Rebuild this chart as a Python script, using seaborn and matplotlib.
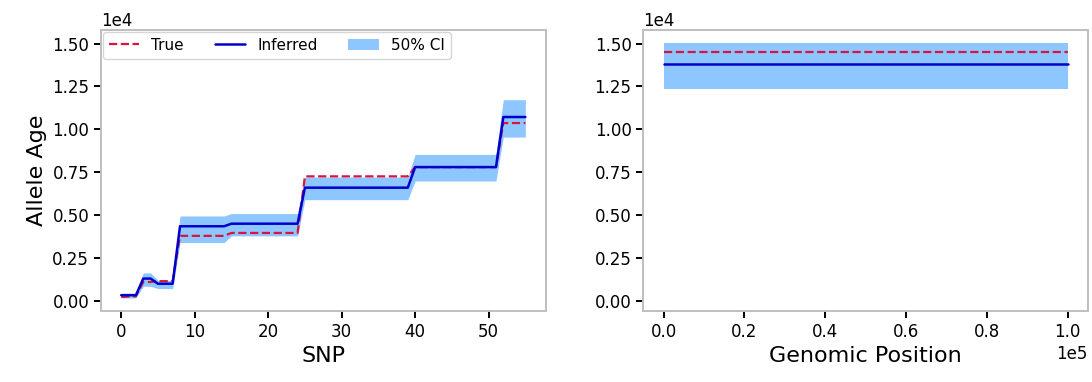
import numpy as np
import seaborn as sns
import matplotlib
matplotlib.use("Agg")
import matplotlib.pyplot as plt

# per-SNP allele ages
snp = list(range(56))
true_age = [230, 250, 270, 1100, 1100, 1150, 1150, 1150,
            3790, 3790, 3790, 3790, 3790, 3790, 3790,
            3960, 3960, 3960, 3960, 3960, 3960, 3960, 3960, 3960, 3960,
            7260, 7260, 7260, 7260, 7260, 7260, 7260, 7260, 7260, 7260, 7260, 7260, 7260, 7260, 7260,
            7800, 7800, 7800, 7800, 7800, 7800, 7800, 7800, 7800, 7800, 7800, 7800,
            10370, 10370, 10370, 10370]
inferred_age = [330, 330, 330, 1300, 1300, 1000, 1000, 1000,
                4350, 4350, 4350, 4350, 4350, 4350, 4350,
                4500, 4500, 4500, 4500, 4500, 4500, 4500, 4500, 4500, 4500,
                6600, 6600, 6600, 6600, 6600, 6600, 6600, 6600, 6600, 6600, 6600, 6600, 6600, 6600, 6600,
                7800, 7800, 7800, 7800, 7800, 7800, 7800, 7800, 7800, 7800, 7800, 7800,
                10720, 10720, 10720, 10720]
ci_lower = [170, 170, 170, 850, 850, 720, 720, 720,
            3400, 3400, 3400, 3400, 3400, 3400, 3400,
            3790, 3790, 3790, 3790, 3790, 3790, 3790, 3790, 3790, 3790,
            5900, 5900, 5900, 5900, 5900, 5900, 5900, 5900, 5900, 5900, 5900, 5900, 5900, 5900, 5900,
            6990, 6990, 6990, 6990, 6990, 6990, 6990, 6990, 6990, 6990, 6990, 6990,
            9550, 9550, 9550, 9550]
ci_upper = [450, 450, 450, 1630, 1630, 1200, 1200, 1200,
            4950, 4950, 4950, 4950, 4950, 4950, 4950,
            5090, 5090, 5090, 5090, 5090, 5090, 5090, 5090, 5090, 5090,
            7220, 7220, 7220, 7220, 7220, 7220, 7220, 7220, 7220, 7220, 7220, 7220, 7220, 7220, 7220,
            8540, 8540, 8540, 8540, 8540, 8540, 8540, 8540, 8540, 8540, 8540, 8540,
            11730, 11730, 11730, 11730]

# TMRCA along the genome
position = [0, 100000]
true_tmrca = [14500, 14500]
inferred_tmrca = [13790, 13790]
tmrca_lower = [12370, 12370]
tmrca_upper = [15050, 15050]

sns.set_style("ticks", {"axes.edgecolor": "0.75", "xtick.color": "black", "ytick.color": "black",
                        "text.color": "black", "axes.labelcolor": "black"})
plt.rcParams["font.family"] = ["DejaVu Sans"]
plt.rcParams["axes.linewidth"] = 1.4
plt.rcParams["xtick.major.width"] = 1.4
plt.rcParams["ytick.major.width"] = 1.4
plt.rcParams["xtick.major.size"] = 5
plt.rcParams["ytick.major.size"] = 5

fig, (ax1, ax2) = plt.subplots(1, 2, figsize=(10.92, 3.82), dpi=100, sharey=True)
fig.subplots_adjust(left=0.0925, right=0.9963, bottom=0.1866, top=0.9215, wspace=0.22)

ci_color = "dodgerblue"

sns.lineplot(x=snp, y=true_age, ax=ax1, color="crimson", linestyle="--", linewidth=1.6, label="True")
sns.lineplot(x=snp, y=inferred_age, ax=ax1, color="mediumblue", linewidth=1.8, label="Inferred")
ax1.fill_between(snp, ci_lower, ci_upper, color=ci_color, alpha=0.5, linewidth=0, label="50% CI")
ax1.legend(loc="upper left", ncol=3, fontsize=11, borderaxespad=0.1)
ax1.set_xlabel("SNP", fontsize=16)
ax1.set_ylabel("Allele Age", fontsize=16)

sns.lineplot(x=position, y=true_tmrca, ax=ax2, color="crimson", linestyle="--", linewidth=1.6, legend=False)
sns.lineplot(x=position, y=inferred_tmrca, ax=ax2, color="mediumblue", linewidth=1.8, legend=False)
ax2.fill_between(position, tmrca_lower, tmrca_upper, color=ci_color, alpha=0.5, linewidth=0)
ax2.set_xlabel("Genomic Position", fontsize=16)
ax2.set_ylabel("TMRCA", fontsize=16)
ax2.yaxis.set_tick_params(labelleft=True)

ax1.ticklabel_format(axis="y", style="sci", scilimits=(0, 0))
ax2.ticklabel_format(axis="both", style="sci", scilimits=(0, 0))
ax1.set_yticks([0, 2500, 5000, 7500, 10000, 12500, 15000])

for ax in (ax1, ax2):
    ax.tick_params(labelsize=12)
    ax.yaxis.get_offset_text().set_fontsize(12)
    ax.xaxis.get_offset_text().set_fontsize(12)

fig.savefig("out.png", dpi=100)
